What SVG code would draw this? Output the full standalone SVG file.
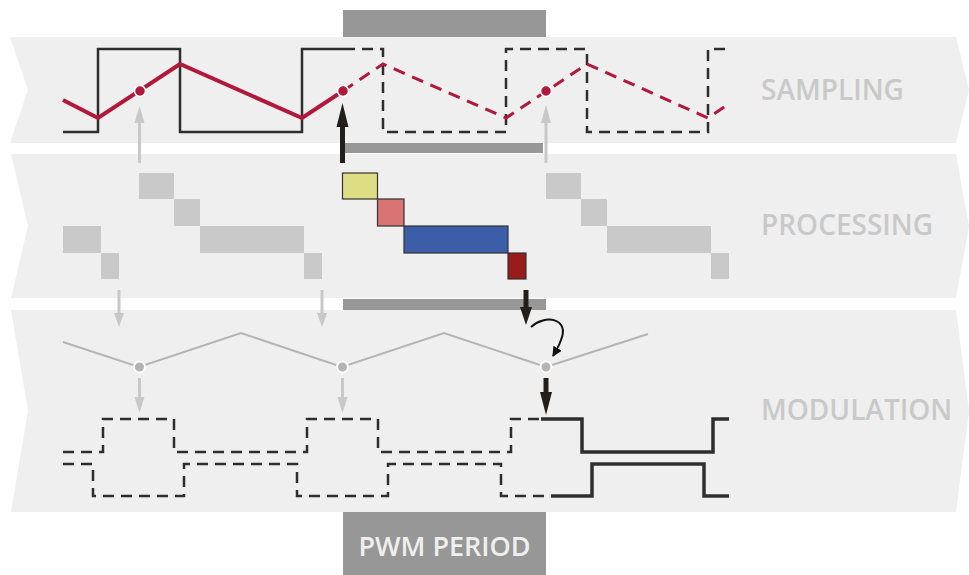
<svg xmlns="http://www.w3.org/2000/svg" width="969" height="575" viewBox="0 0 969 575">
<style>
.band{fill:#efefef}
.bar{fill:#979797}
.lbl{font-family:"Open Sans","Liberation Sans",sans-serif;font-weight:600;font-size:28px;fill:#c9c9c9}
.sq{fill:none;stroke:#2e2e2e;stroke-width:2.5;stroke-linejoin:miter}
.sqd{fill:none;stroke:#2e2e2e;stroke-width:2.5;stroke-dasharray:11 7}
.sqm{fill:none;stroke:#2e2e2e;stroke-width:3.5}
.red{fill:none;stroke:#b2183a;stroke-width:4;stroke-linejoin:miter}
.redd{fill:none;stroke:#b2183a;stroke-width:3;stroke-dasharray:12 8}
.rdot{fill:#b2183a;stroke:#fff;stroke-width:1.5}
.gdot{fill:#b4b4b4;stroke:#fff;stroke-width:2}
.gblk{fill:#c9c9c9}
.cblk{stroke:#333;stroke-width:1.2}
.gsh{stroke:#c8c8c8;stroke-width:3}
.gh{fill:#c8c8c8}
.bsh{stroke:#221e1c;stroke-width:5}
.bh{fill:#221e1c}
</style>
<defs>
<marker id="ch" markerUnits="userSpaceOnUse" markerWidth="12" markerHeight="12" refX="9" refY="5" orient="auto"><path d="M0,0 L10,5 L0,10 Z" fill="#111"/></marker>
</defs>

<g id="bands">
<polygon class="band" points="10,37 956,37 969,90 956,143 10,143 28,90"/>
<polygon class="band" points="11,154 956,154 969,226 956,298 11,298 28,226"/>
<polygon class="band" points="11,310 956,310 969,411 956,512 11,512 28,411"/>
</g>

<g id="period-bars">
<rect class="bar" x="343" y="10" width="203" height="27"/>
<rect class="bar" x="343" y="143" width="200" height="10"/>
<rect class="bar" x="343" y="299" width="203" height="11"/>
</g>

<g id="pwm-period">
<rect class="bar" x="343" y="512" width="203" height="63"/>
<text x="444.5" y="556" text-anchor="middle" font-family="'Open Sans','Liberation Sans',sans-serif" font-weight="600" font-size="27" fill="#efefef">PWM PERIOD</text>
</g>

<g id="labels">
<text class="lbl" x="761" y="100">SAMPLING</text>
<text class="lbl" x="761" y="235">PROCESSING</text>
<text class="lbl" x="761" y="420">MODULATION</text>
</g>

<g id="sampling">
<polyline class="sq" points="63,132 98,132 98,49 180,49 180,132 302,132 302,49 344,49"/>
<polyline class="sqd" points="344,49 383,49 383,132 506,132 506,49 587,49 587,132 708,132 708,49 730,49"/>
<polyline class="red" points="63,100 98,118 180,64 302,118 343,91"/>
<polyline class="redd" points="343,91 383,64 506,118 587,64 708,118 730,103"/>
<circle class="rdot" cx="140" cy="91" r="5.5"/>
<circle class="rdot" cx="343" cy="91" r="5.5"/>
<circle class="rdot" cx="546" cy="91" r="5.5"/>
</g>

<g id="processing">
<rect class="gblk" x="63" y="226" width="38" height="27"/>
<rect class="gblk" x="101" y="253" width="18" height="26"/>
<rect class="gblk" x="139" y="173" width="35" height="26"/>
<rect class="gblk" x="174" y="199" width="26" height="27"/>
<rect class="gblk" x="200" y="226" width="104" height="27"/>
<rect class="gblk" x="304" y="253" width="18" height="26"/>
<rect class="gblk" x="546" y="173" width="35" height="26"/>
<rect class="gblk" x="581" y="199" width="26" height="27"/>
<rect class="gblk" x="607" y="226" width="104" height="27"/>
<rect class="gblk" x="711" y="253" width="18" height="26"/>
<rect class="cblk" x="342.5" y="173" width="35" height="26" fill="#dfdd84"/>
<rect class="cblk" x="377.5" y="199" width="26.5" height="27" fill="#d87474"/>
<rect class="cblk" x="404" y="226" width="104" height="27" fill="#3c5ea8"/>
<rect class="cblk" x="508" y="253" width="18" height="26" fill="#9a1b1b"/>
</g>

<g id="modulation">
<polyline fill="none" stroke="#b4b4b4" stroke-width="2" points="63,342 139,367 241,333 342,367 444,333 546,367 648,334"/>
<circle class="gdot" cx="139.5" cy="367" r="5.5"/>
<circle class="gdot" cx="342.5" cy="367" r="5.5"/>
<circle class="gdot" cx="546" cy="367" r="5.5"/>
<polyline class="sqd" stroke-dasharray="12 7" points="63,452 103,452 103,419 174,419 174,452 307,452 307,419 378,419 378,452 511,452 511,419 542,419"/>
<polyline class="sqm" points="541,419 582,419 582,452 713,452 713,419 729,419"/>
<polyline class="sqd" stroke-dasharray="12 7" points="63,464 93,464 93,496 184,496 184,464 297,464 297,496 388,496 388,464 501,464 501,496 548,496"/>
<polyline class="sqm" points="551,496 592,496 592,464 704,464 704,496 729,496"/>
</g>

<g id="connectors">
<line class="gsh" x1="139.5" y1="163" x2="139.5" y2="122"/>
<polygon class="gh" points="134.5,123 144.5,123 139.5,106"/>
<line class="gsh" x1="546" y1="163" x2="546" y2="122"/>
<polygon class="gh" points="541,123 551,123 546,105"/>
<line class="bsh" x1="342.5" y1="163" x2="342.5" y2="125"/>
<polygon class="bh" points="336.5,127 348.5,127 342.5,103"/>

<line class="gsh" x1="119" y1="290" x2="119" y2="314"/>
<polygon class="gh" points="114,313 124,313 119,327"/>
<line class="gsh" x1="322" y1="290" x2="322" y2="314"/>
<polygon class="gh" points="317,313 327,313 322,327"/>
<line class="bsh" x1="526" y1="290" x2="526" y2="309"/>
<polygon class="bh" points="520,307 532,307 526,325"/>

<line class="gsh" x1="139.5" y1="378" x2="139.5" y2="398"/>
<polygon class="gh" points="134.5,397 144.5,397 139.5,413"/>
<line class="gsh" x1="342.5" y1="378" x2="342.5" y2="398"/>
<polygon class="gh" points="337.5,397 347.5,397 342.5,413"/>
<line class="bsh" x1="546" y1="378" x2="546" y2="394"/>
<polygon class="bh" points="540,392 552,392 546,415"/>

<path d="M531,327 C545,314 570,318 561,340 C559,346 556,351 553,356" fill="none" stroke="#111" stroke-width="2" marker-end="url(#ch)"/>
</g>
</svg>
